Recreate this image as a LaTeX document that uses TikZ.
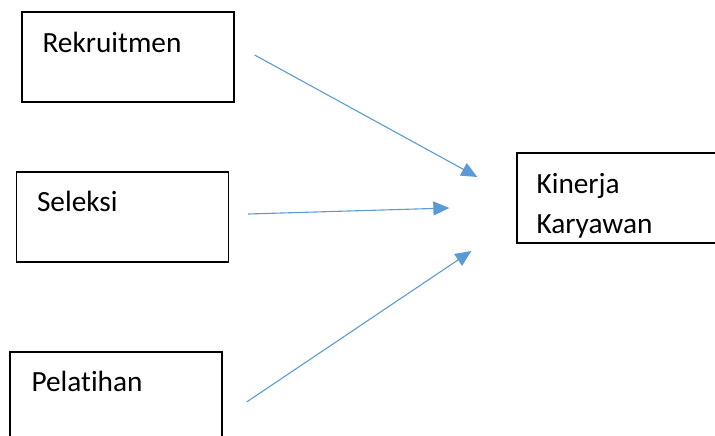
\documentclass[tikz,border=0pt]{standalone}
\usepackage{fontspec}
\setmainfont{Carlito}[Ligatures=NoCommon]
\usetikzlibrary{arrows.meta,positioning,calc}

\definecolor{arrowblue}{HTML}{5B9BD5}

\tikzset{
  varbox/.style={rectangle, draw=black, line width=1.3pt, minimum width=212pt, minimum height=90pt, inner sep=0pt},
  vartext/.style={anchor=base west, inner sep=0pt, font=\fontsize{29.3}{40}\selectfont, align=left},
  link/.style={draw=arrowblue, line width=1.1pt, -{Triangle[length=16pt,width=14pt]}}
}

\begin{document}
\begin{tikzpicture}[x=1pt, y=-1pt]
    \useasboundingbox (0,0) rectangle (715,436);
    \clip (0,0) rectangle (715,436);

    % Independent variables
    \node[varbox] (rekr) at (128,57) {};
    \node[varbox] (sel) at (122.5,217) {};
    \node[varbox] (pel) at (116,397) {};

    % Dependent variable
    \node[varbox] (kin) at (623,198) {};

    % Labels
    \node[vartext] (rekrtxt) at ($(rekr.north west)+(21,41)$) {Rekruitmen};
    \node[vartext] (seltxt) at ($(sel.north west)+(21,40)$) {Seleksi};
    \node[vartext] (peltxt) at ($(pel.north west)+(22,40)$) {Pelatihan};
    \node[vartext] (kintxt) at ($(kin.north west)+(20,81)$) {Kinerja\\Karyawan};

    % Arrow ends
    \coordinate (rekrout) at ($(rekr.east)+(20,-2)$);
    \coordinate (selout) at ($(sel.east)+(19,-3)$);
    \coordinate (pelout) at ($(pel.east)+(24,5)$);
    \coordinate (kinin1) at ($(kin.west)+(-39,-21)$);
    \coordinate (kinin2) at ($(kin.west)+(-67,10)$);
    \coordinate (kinin3) at ($(kin.west)+(-45,53)$);

    % Connections
    \draw[link] (rekrout) -- (kinin1);
    \draw[link] (selout) -- (kinin2);
    \draw[link] (pelout) -- (kinin3);
\end{tikzpicture}
\end{document}
